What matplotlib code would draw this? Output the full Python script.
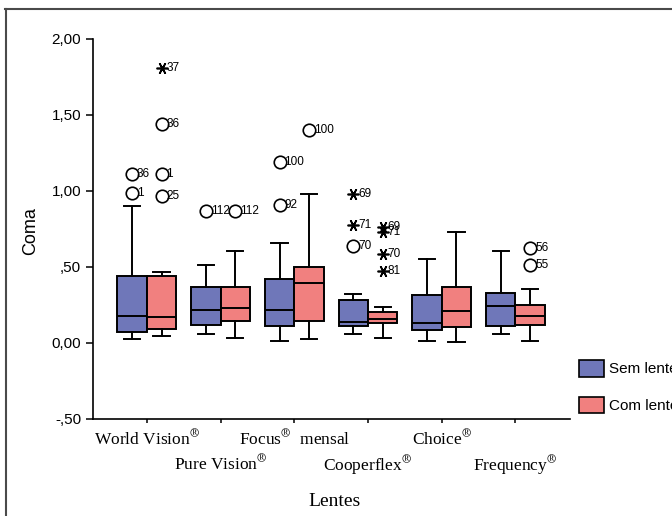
import matplotlib
matplotlib.use('Agg')
import matplotlib.pyplot as plt
from matplotlib.patches import Patch
from matplotlib.lines import Line2D

plt.rcParams['font.family'] = ['Liberation Sans', 'DejaVu Sans']
plt.rcParams['mathtext.fontset'] = 'stix'

# lens groups (x axis)
lentes = [r'World Vision$^{\circledR}$', r'Pure Vision$^{\circledR}$',
          r'Focus$^{\circledR}$  mensal', r'Cooperflex$^{\circledR}$',
          r'Choice$^{\circledR}$', r'Frequency$^{\circledR}$']

# box stats: "Sem lente" (without lens)
sem_lo  = [0.024, 0.059, 0.015, 0.061, 0.015, 0.061]
sem_q1  = [0.07, 0.12, 0.112, 0.112, 0.086, 0.112]
sem_med = [0.18, 0.217, 0.217, 0.138, 0.13, 0.245]
sem_q3  = [0.44, 0.368, 0.42, 0.28, 0.314, 0.331]
sem_hi  = [0.90, 0.51, 0.66, 0.325, 0.553, 0.607]

# "Com lente" (with lens)
com_lo  = [0.046, 0.035, 0.024, 0.031, 0.007, 0.015]
com_q1  = [0.094, 0.147, 0.147, 0.13, 0.105, 0.116]
com_med = [0.17, 0.228, 0.393, 0.158, 0.208, 0.176]
com_q3  = [0.44, 0.37, 0.50, 0.206, 0.368, 0.252]
com_hi  = [0.467, 0.607, 0.98, 0.237, 0.73, 0.353]

# outliers: group index, series (0 sem / 1 com), value, case id, kind
out_group  = [0, 0, 0, 0, 0, 0, 1, 1, 2, 2, 2, 3, 3, 3, 3, 3, 3, 3, 5, 5]
out_series = [0, 0, 1, 1, 1, 1, 0, 1, 0, 0, 1, 0, 0, 0, 1, 1, 1, 1, 1, 1]
out_value  = [0.99, 1.11, 1.81, 1.44, 1.11, 0.97, 0.87, 0.87, 1.19, 0.906, 1.40,
              0.98, 0.774, 0.64, 0.765, 0.73, 0.587, 0.476, 0.625, 0.515]
out_id     = ['1', '36', '37', '36', '1', '25', '112', '112', '100', '92', '100',
              '69', '71', '70', '69', '71', '70', '81', '56', '55']
out_kind   = ['o', 'o', '*', 'o', 'o', 'o', 'o', 'o', 'o', 'o', 'o',
              '*', '*', 'o', '*', '*', '*', '*', 'o', 'o']

blue = '#6f77b9'
red = '#f1807f'
off = 0.2
width = 0.4

fig = plt.figure(figsize=(6.72, 5.16), dpi=100)
ax = fig.add_axes([93/672, 97/516, 477/672, 380/516])

def stats(lo, q1, med, q3, hi):
    return [dict(whislo=a, q1=b, med=c, q3=d, whishi=e, fliers=[])
            for a, b, c, d, e in zip(lo, q1, med, q3, hi)]

pos = list(range(1, len(lentes) + 1))
for st, shift, col in [(stats(sem_lo, sem_q1, sem_med, sem_q3, sem_hi), -off, blue),
                       (stats(com_lo, com_q1, com_med, com_q3, com_hi), off, red)]:
    ax.bxp(st, positions=[p + shift for p in pos], widths=width, capwidths=0.22,
           patch_artist=True, showfliers=False, manage_ticks=False,
           boxprops=dict(facecolor=col, edgecolor='black', linewidth=1.4),
           medianprops=dict(color='black', linewidth=1.4),
           whiskerprops=dict(color='black', linewidth=1.4),
           capprops=dict(color='black', linewidth=1.4))

# outliers with case labels
for g, s, v, lab, k in zip(out_group, out_series, out_value, out_id, out_kind):
    x = pos[g] + (off if s else -off)
    if k == 'o':
        ax.plot(x, v, 'o', mfc='none', mec='black', ms=9, mew=1.2)
    else:
        ax.plot(x, v, marker=(6, 2, 90), color='black', ms=8.5, mew=1.2)
    ax.annotate(lab, (x, v), xytext=(3.5, 0), textcoords='offset points',
                ha='left', va='center', fontsize=8.5)

ax.set_xlim(0.27, 6.74)
ax.set_ylim(-0.5, 2.0)
ax.set_yticks([-0.5, 0, 0.5, 1.0, 1.5, 2.0])
ax.set_yticklabels(['-,50', '0,00', ',50', '1,00', '1,50', '2,00'], fontsize=11)
ax.set_xticks(pos)
ax.set_xticklabels(lentes, family=['Liberation Serif'], fontsize=12.5)
for i, t in enumerate(ax.xaxis.get_major_ticks()):
    t.set_pad(4 if i % 2 == 0 else 22)
ax.tick_params(axis='y', length=5, width=1.1)
ax.tick_params(axis='x', length=3, width=1.1)
for sp in ['top', 'right']:
    ax.spines[sp].set_visible(False)
for sp in ['left', 'bottom']:
    ax.spines[sp].set_linewidth(1.2)

fig.text(31/672, 1 - 231/516, 'Coma', rotation=90, ha='center', va='center',
         fontsize=13)
fig.text(335/672, 1 - 502/516, 'Lentes', ha='center', va='center',
         family=['Liberation Serif'], fontsize=14)

# legend outside, right side (clipped by the image edge like the original)
handles = [Patch(facecolor=blue, edgecolor='black', linewidth=1.2),
           Patch(facecolor=red, edgecolor='black', linewidth=1.2)]
fig.legend(handles, ['Sem lente', 'Com lente'], loc='upper left',
           bbox_to_anchor=(579/672, 1 - 360/516), frameon=False, fontsize=11,
           borderpad=0, borderaxespad=0, handlelength=1.65, handleheight=1.3,
           handletextpad=0.3, labelspacing=1.3)

# outer frame lines
fig.add_artist(Line2D([5/672, 1], [1 - 9/516, 1 - 9/516], color='#4a4a4a', lw=1.5,
                      transform=fig.transFigure))
fig.add_artist(Line2D([6/672, 6/672], [0, 1 - 9/516], color='#4a4a4a', lw=1.5,
                      transform=fig.transFigure))

fig.savefig('out.png', dpi=100)
